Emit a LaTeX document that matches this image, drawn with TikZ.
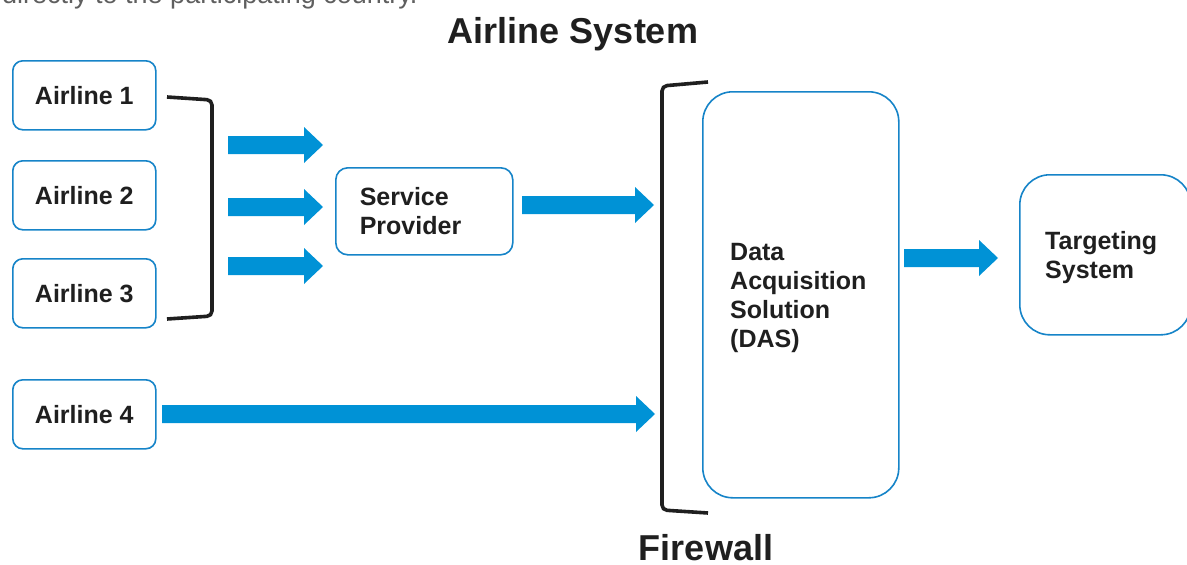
\documentclass[tikz,border=0pt]{standalone}
\usepackage{fontspec}
\setmainfont{Liberation Sans}
\definecolor{boxblue}{RGB}{22,132,200}
\definecolor{flowblue}{RGB}{0,146,214}
\definecolor{notegray}{RGB}{95,95,95}
\tikzset{
  unit/.style={draw=boxblue, line width=1.6pt, fill=white, font=\bfseries\fontsize{25}{29}\selectfont, text=black!88},
  airline/.style={unit, rounded corners=10pt, minimum width=143pt, minimum height=69pt, anchor=north west, inner sep=0pt},
  bigunit/.style={unit, align=left, anchor=north west, inner ysep=0pt},
  frame/.style={draw=boxblue, line width=1.6pt, fill=white, anchor=north west, inner sep=0pt},
  caption/.style={font=\bfseries\fontsize{25}{29}\selectfont, text=black!88, align=left, inner sep=0pt},
  bracket/.style={line width=3.6pt, black!88, rounded corners=5pt},
  heading/.style={font=\bfseries\fontsize{36}{40}\selectfont, text=black!88, anchor=base},
  flow/.style={fill=flowblue, draw=none}
}
% broad block arrow from x=#1 to x=#2 along y=#3
\newcommand\blockarrow[3]{%
  \fill[flow] (#1,#3-9) -- (#2-19,#3-9) -- (#2-19,#3-18) -- (#2,#3)
     -- (#2-19,#3+18) -- (#2-19,#3+9) -- (#1,#3+9) -- cycle;}
\begin{document}
\begin{tikzpicture}[x=1pt,y=-1pt]
\useasboundingbox (0,0) rectangle (1187,565);

% sentence running in from above
\node[anchor=base west, inner sep=0pt, font=\fontsize{27}{30}\selectfont, text=notegray] (note) at (2,3) {directly to the participating country.};

\node[heading] (title) at (573,43) {Airline System};
\node[heading] (fw) at (706,560) {Firewall};

% airlines
\node[airline] (a1) at (12,60) {Airline 1};
\node[airline] (a2) at (12,160) {Airline 2};
\node[airline] (a3) at (12,258) {Airline 3};
\node[airline] (a4) at (12,379) {Airline 4};

% service provider
\node[bigunit, rounded corners=12pt, text width=129pt, inner xsep=24pt, minimum height=87pt] (sp) at (335,167) {Service\\Provider};

% data acquisition solution
\node[frame, rounded corners=30pt, minimum width=196pt, minimum height=406pt] (das) at (702,91) {};
\node[caption, anchor=west] (dastext) at ([xshift=28pt,yshift=-3pt]das.west) {Data\\Acquisition\\Solution\\(DAS)};

% targeting system
\node[frame, rounded corners=30pt, minimum width=171pt, minimum height=160pt] (ts) at (1019,174) {};
\node[caption, anchor=west] (tstext) at ([xshift=26pt,yshift=-3pt]ts.west) {Targeting\\System};

% brackets grouping airlines 1-3 and marking the firewall
\coordinate (g1) at (167,97);
\coordinate (g2) at (167,319);
\draw[bracket] (g1) -- (212,100) -- (212,316) -- (g2);
\coordinate (f1) at (708,82);
\coordinate (f2) at (708,513);
\draw[bracket] (f1) -- (662,86) -- (662,510) -- (f2);

% data flows
\blockarrow{228}{323}{145}
\blockarrow{228}{323}{207}
\blockarrow{228}{323}{266}
\blockarrow{522}{654}{205}
\blockarrow{162}{655}{414}
\blockarrow{904}{998}{258}
\end{tikzpicture}
\end{document}
